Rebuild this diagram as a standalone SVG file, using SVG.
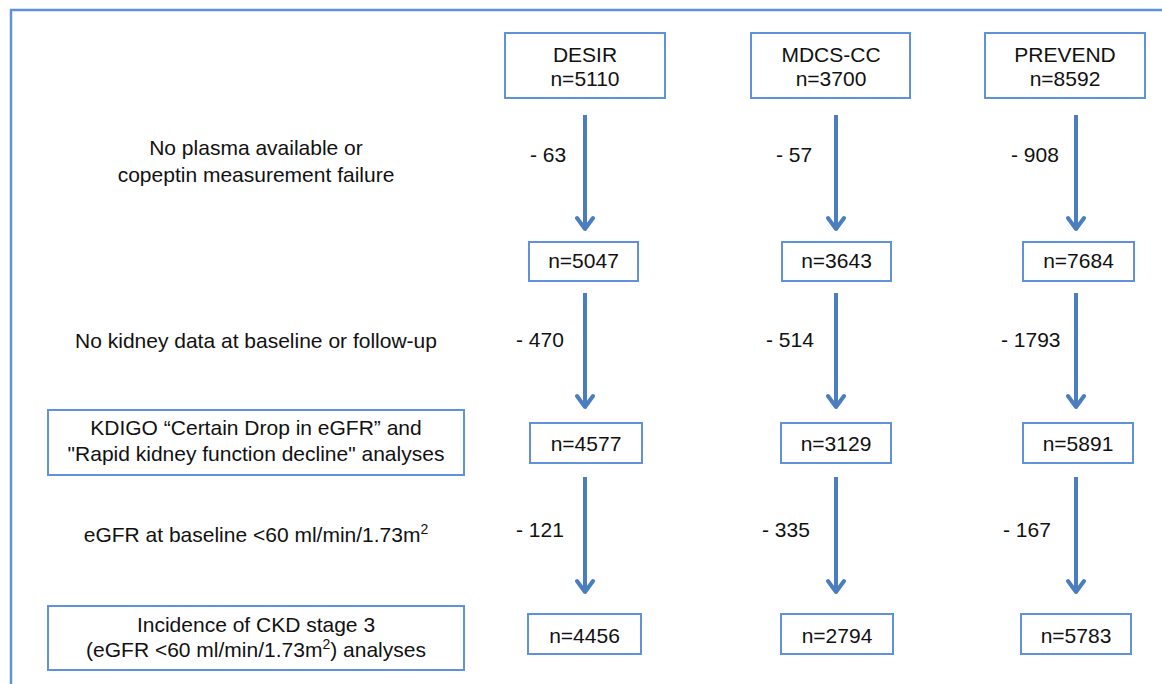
<svg xmlns="http://www.w3.org/2000/svg" width="1162" height="684" viewBox="0 0 1162 684">
<style>
.box{fill:#ffffff;stroke:#5f92db;stroke-width:2}
.frame{fill:none;stroke:#5f92db;stroke-width:2.5}
.t{font-family:"Liberation Sans",Arial,sans-serif;font-size:21px;fill:#111111;text-anchor:middle}
.lbl{font-family:"Liberation Sans",Arial,sans-serif;font-size:21px;fill:#111111}
.sup{font-size:14px}
.arrow{fill:none;stroke:#4a7ebf;stroke-width:4;marker-end:url(#head)}
</style>
<defs>
<marker id="head" viewBox="0 0 20 20" refX="15" refY="10" markerWidth="20" markerHeight="20" markerUnits="userSpaceOnUse" orient="auto">
<path d="M4 2 L15 10 L4 18" fill="none" stroke="#4a7ebf" stroke-width="4" stroke-linejoin="round" stroke-linecap="round"/>
</marker>
</defs>
<rect width="1162" height="684" fill="#ffffff"/>
<g id="frame">
<path class="frame" d="M11 684 V10 H1162"/>
</g>
<g id="connectors">
<path class="arrow" d="M585 115 V229"/>
<path class="arrow" d="M836 115 V229"/>
<path class="arrow" d="M1076 115 V229"/>
<path class="arrow" d="M585 293 V407"/>
<path class="arrow" d="M836 293 V407"/>
<path class="arrow" d="M1076 293 V407"/>
<path class="arrow" d="M585 477 V592"/>
<path class="arrow" d="M836 477 V592"/>
<path class="arrow" d="M1076 477 V592"/>
<text class="lbl" x="530" y="162">- 63</text>
<text class="lbl" x="776" y="162">- 57</text>
<text class="lbl" x="1011" y="162">- 908</text>
<text class="lbl" x="516" y="347">- 470</text>
<text class="lbl" x="766" y="347">- 514</text>
<text class="lbl" x="1001" y="347">- 1793</text>
<text class="lbl" x="516" y="537">- 121</text>
<text class="lbl" x="762" y="537">- 335</text>
<text class="lbl" x="1003" y="537">- 167</text>
</g>
<g id="step-labels">
<text class="t" x="256" y="155">No plasma available or</text>
<text class="t" x="256" y="182">copeptin measurement failure</text>
<text class="t" x="256" y="348">No kidney data at baseline or follow-up</text>
<text class="t" x="256" y="542">eGFR at baseline &lt;60 ml/min/1.73m<tspan class="sup" dy="-8">2</tspan></text>
</g>
<g id="desir">
<rect class="box" x="505" y="33" width="160" height="65"/>
<text class="t" x="585" y="62">DESIR</text>
<text class="t" x="585" y="86">n=5110</text>
</g>
<g id="mdcs">
<rect class="box" x="751" y="33" width="159" height="65"/>
<text class="t" x="831" y="62">MDCS-CC</text>
<text class="t" x="831" y="86">n=3700</text>
</g>
<g id="prevend">
<rect class="box" x="985" y="33" width="160" height="65"/>
<text class="t" x="1065" y="62">PREVEND</text>
<text class="t" x="1065" y="86">n=8592</text>
</g>
<g id="desir-2">
<rect class="box" x="529" y="242" width="109" height="39"/>
<text class="t" x="583.5" y="268">n=5047</text>
</g>
<g id="mdcs-2">
<rect class="box" x="782" y="242" width="109" height="39"/>
<text class="t" x="836.5" y="268">n=3643</text>
</g>
<g id="prevend-2">
<rect class="box" x="1023" y="242" width="111" height="39"/>
<text class="t" x="1078.5" y="268">n=7684</text>
</g>
<g id="kdigo">
<rect class="box" x="48" y="410" width="416" height="65"/>
<text class="t" x="256" y="435">KDIGO “Certain Drop in eGFR” and</text>
<text class="t" x="256" y="461">"Rapid kidney function decline" analyses</text>
</g>
<g id="desir-3">
<rect class="box" x="530" y="423" width="112" height="40"/>
<text class="t" x="586" y="451">n=4577</text>
</g>
<g id="mdcs-3">
<rect class="box" x="781" y="423" width="110" height="40"/>
<text class="t" x="836" y="451">n=3129</text>
</g>
<g id="prevend-3">
<rect class="box" x="1023" y="423" width="110" height="40"/>
<text class="t" x="1078" y="451">n=5891</text>
</g>
<g id="ckd">
<rect class="box" x="48" y="606" width="416" height="64"/>
<text class="t" x="256" y="632">Incidence of CKD stage 3</text>
<text class="t" x="256" y="657">(eGFR &lt;60 ml/min/1.73m<tspan class="sup" dy="-8">2</tspan><tspan dy="8">) analyses</tspan></text>
</g>
<g id="desir-4">
<rect class="box" x="528" y="614" width="113" height="40"/>
<text class="t" x="584.5" y="643">n=4456</text>
</g>
<g id="mdcs-4">
<rect class="box" x="781" y="614" width="112" height="40"/>
<text class="t" x="837" y="643">n=2794</text>
</g>
<g id="prevend-4">
<rect class="box" x="1021" y="614" width="110" height="40"/>
<text class="t" x="1076" y="643">n=5783</text>
</g>
</svg>
